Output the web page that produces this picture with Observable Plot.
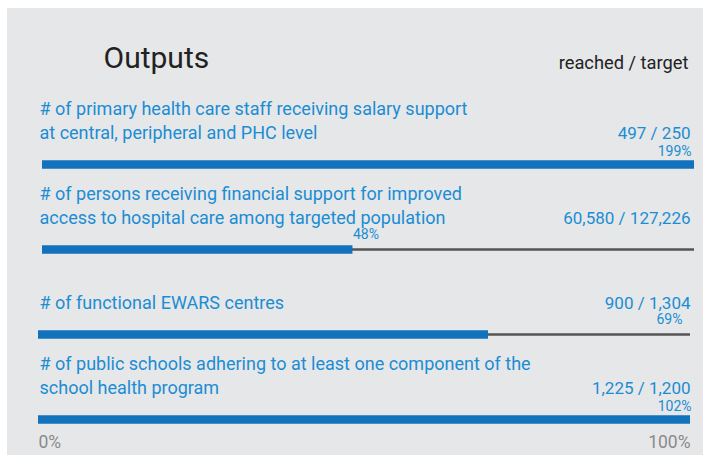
<!DOCTYPE html>
<html>
<head>
<meta charset="utf-8">
<script src="https://cdn.jsdelivr.net/npm/d3@7"></script>
<script src="https://cdn.jsdelivr.net/npm/@observablehq/plot@0.6"></script>
<style>
  html, body { margin: 0; padding: 0; background: #ffffff; }
  #wrap { position: relative; width: 703px; height: 459px; overflow: hidden; }
  #panel { position: absolute; left: 7px; top: 8px; width: 696px; height: 447px; background: #e6e7e9; }
  #chart { position: absolute; left: 0; top: 0; }
</style>
</head>
<body>
<div id="wrap"><div id="panel"></div><div id="chart"></div></div>
<script>
// ---- data ----
const labels = [
  "# of primary health care staff receiving salary support\nat central, peripheral and PHC level",
  "# of persons receiving financial support for improved\naccess to hospital care among targeted population",
  "# of functional EWARS centres",
  "# of public schools adhering to at least one component of the\nschool health program"
];
const reached = [497, 60580, 900, 1225];
const targets = [250, 127226, 1304, 1200];
const titleText = "Outputs";
const headerText = "reached / target";
const axisTicks = [0, 1];

// ---- derived table ----
const rows = labels.map((label, i) => ({
  i, label,
  reached: reached[i], target: targets[i],
  pct: reached[i] / targets[i]
}));
const fmt = d3.format(",");
const pfmt = d3.format(".0%");

const blue = "#1272bc";
const textBlue = "#1b8dd3";
const FONT = "Roboto, 'Open Sans', sans-serif";

function barMarks(sub, dx) {
  return [
    Plot.ruleY(sub.filter(d => d.pct < 1), {y: "i", x1: 0, x2: 1, stroke: "#555", strokeWidth: 2.5, dx}),
    Plot.ruleY(sub, {y: "i", x1: 0, x2: d => Math.min(d.pct, 1), stroke: blue, strokeWidth: 8.5, dx})
  ];
}

const chart = Plot.plot({
  width: 703,
  height: 459,
  marginLeft: 38,
  marginRight: 13,
  marginTop: 163,
  marginBottom: 39,
  x: {domain: [0, 1], axis: null},
  y: {type: "point", domain: [0, 1, 2, 3], padding: 0, axis: null},
  style: {background: "transparent", fontFamily: FONT, overflow: "visible"},
  marks: [
    // title + header
    Plot.text([titleText], {frameAnchor: "top-left", dx: 65, dy: -105, text: d => d, fontSize: 30, fill: "#222", textAnchor: "start", lineAnchor: "middle"}),
    Plot.text([headerText], {frameAnchor: "top-right", dx: -2, dy: -100, text: d => d, fontSize: 18.3, fill: "#222", textAnchor: "end", lineAnchor: "middle"}),
    // bars
    ...barMarks(rows.filter(d => d.i < 2), 4),
    ...barMarks(rows.filter(d => d.i >= 2), 0),
    // labels
    Plot.text(rows, {x: 0, y: "i", text: "label", textAnchor: "start", lineAnchor: "bottom", lineHeight: 1.28, fontSize: 18, fill: textBlue, dx: 1, dy: -26}),
    // reached / target values
    Plot.text(rows, {x: 1, y: "i", text: d => `${fmt(d.reached)} / ${fmt(d.target)}`, textAnchor: "end", lineAnchor: "bottom", fontSize: 17, fill: textBlue, dy: -26}),
    // percentage labels
    Plot.text(rows.filter(d => d.pct >= 1), {x: 1, y: "i", text: d => pfmt(d.pct), textAnchor: "end", lineAnchor: "bottom", fontSize: 14, fill: textBlue, dx: 1, dy: -9}),
    Plot.text(rows.filter(d => d.i === 1), {x: "pct", y: "i", text: d => pfmt(d.pct), textAnchor: "start", lineAnchor: "bottom", fontSize: 14, fill: textBlue, dx: 4, dy: -10.5}),
    Plot.text(rows.filter(d => d.i === 2), {x: 1, y: "i", text: d => pfmt(d.pct), textAnchor: "end", lineAnchor: "bottom", fontSize: 14, fill: textBlue, dx: -8, dy: -10.5}),
    // axis labels
    Plot.text([axisTicks[0]], {x: d => d, frameAnchor: "bottom", text: pfmt, textAnchor: "start", lineAnchor: "middle", fontSize: 17.5, fill: "#8a8a8a", dy: 22}),
    Plot.text([axisTicks[1]], {x: d => d, frameAnchor: "bottom", text: pfmt, textAnchor: "end", lineAnchor: "middle", fontSize: 17.5, fill: "#8a8a8a", dy: 22})
  ]
});
document.getElementById("chart").appendChild(chart);
</script>
</body>
</html>
